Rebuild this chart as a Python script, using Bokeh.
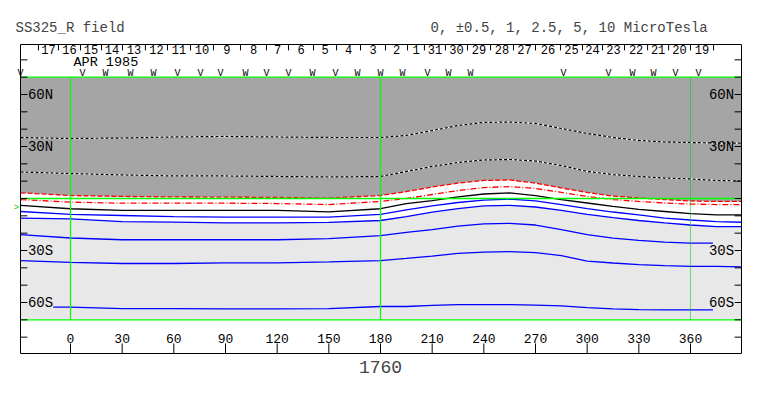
from bokeh.plotting import figure
from bokeh.models import Range1d, Label
from bokeh.core.properties import value
from bokeh.embed import file_html
from bokeh.resources import INLINE

# ---------------- data ----------------
lon = [-29, 0, 30, 60, 90, 120, 150, 180, 195, 210, 225, 240, 255, 270, 285,
       300, 315, 330, 345, 360, 375, 389.6]

# contour latitudes (deg)
lat_wd_upper = [35.2, 34.6, 34.9, 35.5, 35.8, 35.5, 35.2, 35.2, 36.4, 39.2, 42.1,
                43.9, 44.1, 43.3, 40.4, 37.5, 35.2, 33.5, 32.6, 32.3, 32.0, 32.0]
lat_wd_lower = [15.3, 14.4, 13.6, 13.0, 13.0, 12.7, 12.4, 12.7, 15.6, 18.5, 20.8,
                22.2, 22.5, 21.6, 19.0, 15.6, 13.8, 12.7, 11.8, 11.3, 10.4, 10.1]
lat_red_upper = [3.3, 1.7, 1.2, 0.9, 0.8, 0.6, 0.2, 1.7, 4.0, 6.6, 8.9,
                 10.4, 10.7, 8.9, 6.1, 3.5, 1.4, 0.3, -0.6, -1.4, -1.7, -1.7]
lat_red_lower = [-0.6, -2.1, -2.7, -2.7, -2.7, -2.9, -3.5, -1.7, 0.0, 2.3, 4.6,
                 6.3, 6.9, 5.8, 3.5, 1.2, -0.6, -1.7, -2.6, -3.2, -3.5, -3.5]
lat_black = [-4.0, -5.9, -6.9, -6.9, -6.9, -6.9, -7.7, -5.9, -2.9, -1.2, 0.9,
             2.6, 3.2, 1.7, -0.6, -2.6, -4.6, -6.3, -7.5, -8.7, -9.4, -9.4]
lat_blue1 = [-7.5, -9.2, -9.8, -10.4, -10.8, -10.8, -10.8, -9.2, -6.6, -4.3, -2.3,
             -0.9, -0.4, -1.4, -3.5, -5.8, -7.8, -9.5, -11.3, -12.4, -13.3, -13.7]
lat_blue2 = [-11.3, -11.8, -13.3, -13.6, -14.1, -14.1, -13.8, -12.7, -10.4, -7.8, -5.8,
             -4.3, -4.0, -4.9, -6.9, -9.2, -11.0, -12.7, -14.1, -15.3, -16.2, -16.2]
lon_blue3 = [-29, 0, 30, 60, 90, 120, 150, 180, 195, 210, 225, 240, 255, 270, 285,
             300, 315, 330, 345, 360, 373]
lat_blue3 = [-20.8, -22.8, -23.8, -23.8, -23.8, -23.8, -23.1, -21.4, -19.6, -17.9, -15.9,
             -14.6, -14.3, -15.3, -17.9, -20.8, -22.9, -24.2, -25.2, -25.8, -25.8]
lat_blue4 = [-35.8, -36.9, -37.5, -37.5, -37.1, -37.1, -36.6, -35.8, -34.6, -33.2, -31.7,
             -30.9, -30.6, -31.2, -32.9, -36.1, -37.2, -38.1, -38.7, -39.2, -39.2, -39.5]
lon_blue5 = [-10, 0, 30, 60, 90, 120, 150, 180, 195, 210, 225, 240, 255, 270, 285,
             300, 315, 330, 345, 360, 373]
lat_blue5 = [-62.7, -62.7, -63.5, -63.5, -63.7, -63.7, -63.5, -62.3, -62.3, -61.7, -61.2,
             -61.2, -61.2, -61.5, -62.0, -62.9, -63.7, -64.1, -64.2, -64.2, -64.2]

# axis ticks / labels
lon_ticks = [0, 30, 60, 90, 120, 150, 180, 210, 240, 270, 300, 330, 360]
lon_tick_labels = ["0", "30", "60", "90", "120", "150", "180", "210", "240",
                   "270", "300", "330", "360"]
lat_ticks = [-80, -70, -60, -50, -40, -30, -20, -10, 0, 10, 20, 30, 40, 50, 60, 70, 80]
lat_label_pos = [60, 30, -30, -60]
lat_label_text = ["60N", "30N", "30S", "60S"]

# day strip (time axis on top)
day_sep_lon = [-18.6, -7.0, 5.8, 18.0, 30.2, 43.5, 56.3, 69.7, 83.0, 98.7, 113.8,
               126.6, 141.1, 154.5, 168.4, 182.9, 195.7, 205.5, 217.7, 230.5, 243.9,
               257.2, 270.0, 284.5, 297.3, 308.9, 321.7, 335.1, 347.3, 360.0, 373.4]
day_labels = ["17", "16", "15", "14", "13", "12", "11", "10", "9", "8", "7", "6", "5",
              "4", "3", "2", "1", "31", "30", "29", "28", "27", "26", "25", "24", "23",
              "22", "21", "20", "19"]

# pass markers
mark_lon = [-29.0, 7.0, 20.3, 34.8, 48.2, 62.1, 75.5, 87.1, 101.6, 113.8, 126.6, 140.5,
            153.9, 166.6, 180.0, 192.8, 207.3, 219.5, 232.3, 286.3, 312.4, 326.3,
            338.5, 351.3, 364.6]
mark_chr = ["V", "V", "W", "W", "W", "V", "V", "V", "W", "V", "V", "W",
            "V", "W", "W", "W", "V", "W", "W", "V", "V", "W", "W", "V", "V"]

MAP_N, MAP_S = 70, -70
FONT = "Liberation Mono"

# ---------------- geometry ----------------
W, H = 760, 390
SX = 310 / 180.0      # px per degree longitude
SY = 52 / 30.0        # px per degree latitude
PX0, PY0 = 70, 198    # pixel of lon 0 / lat 0
X0, X1 = (20 - PX0) / SX, (741 - PX0) / SX      # chart box
Y0, Y1 = (PY0 - 353) / SY, (PY0 - 44) / SY

p = figure(width=W, height=H,
           x_range=Range1d(-PX0 / SX, (W - PX0) / SX),
           y_range=Range1d((PY0 - H) / SY, PY0 / SY),
           output_backend="svg", toolbar_location=None, x_axis_type=None, y_axis_type=None,
           min_border=0, title=None)
p.outline_line_color = None
p.background_fill_color = "white"
p.border_fill_color = "white"

n = len(lon)
p.varea(x=lon, y1=lat_red_upper, y2=[MAP_N] * n, fill_color="#a5a5a5")
p.varea(x=lon, y1=[MAP_S] * n, y2=lat_blue2, fill_color="#e8e8e8")

# white/black dashed contours
for lats in (lat_wd_upper, lat_wd_lower):
    p.line(lon, lats, line_color="white", line_width=1.2)
    p.line(lon, lats, line_color="black", line_width=1.2, line_dash="3 2")

p.line(lon, lat_red_upper, line_color="#ff0000", line_width=1.3, line_dash="5 2")
p.line(lon, lat_red_lower, line_color="#ff0000", line_width=1.3, line_dash="6 2 1 2")
p.line(lon, lat_black, line_color="black", line_width=1.3)
p.line(lon, lat_blue1, line_color="#0000ff", line_width=1.3)
p.line(lon, lat_blue2, line_color="#0000ff", line_width=1.3)
p.line(lon_blue3, lat_blue3, line_color="#0000ff", line_width=1.3)
p.line(lon, lat_blue4, line_color="#0000ff", line_width=1.3)
p.line(lon_blue5, lat_blue5, line_color="#0000ff", line_width=1.3)

# green map lines
p.segment(x0=[X0] * 3, x1=[X1] * 3, y0=[MAP_N, 0, MAP_S], y1=[MAP_N, 0, MAP_S],
          line_color="#00ff00", line_width=1.3)
p.segment(x0=[0, 180], x1=[0, 180], y0=[MAP_S] * 2, y1=[MAP_N] * 2,
          line_color="#00ff00", line_width=1.2)
p.segment(x0=[360], x1=[360], y0=[MAP_S], y1=[MAP_N],
          line_color="#00cc00", line_width=1, line_alpha=0.55)

# chart box
p.quad(left=[X0], right=[X1], bottom=[Y0], top=[Y1], fill_color=None,
       line_color="black", line_width=1)

# latitude ticks both sides
m = len(lat_ticks)
p.segment(x0=[X0] * m, x1=[X0 + 4] * m, y0=lat_ticks, y1=lat_ticks, line_color="black")
p.segment(x0=[X1 - 4] * m, x1=[X1] * m, y0=lat_ticks, y1=lat_ticks, line_color="black")
p.text(x=[X0 + 4.3] * 4, y=lat_label_pos, text=lat_label_text, text_font=value(FONT),
       text_font_size="14px", text_align="left", text_baseline="middle", text_color="black")
p.text(x=[X1 - 4.3] * 4, y=lat_label_pos, text=lat_label_text, text_font=value(FONT),
       text_font_size="14px", text_align="right", text_baseline="middle", text_color="black")

# longitude ticks at the bottom (inside)
k = len(lon_ticks)
p.segment(x0=lon_ticks, x1=lon_ticks, y0=[Y0] * k, y1=[Y0 + 5.8] * k, line_color="black")
p.text(x=lon_ticks, y=[-80.5] * k, text=lon_tick_labels, text_font=value(FONT),
       text_font_size="13px", text_align="center", text_baseline="middle", text_color="black")

# day strip
s = len(day_sep_lon)
p.segment(x0=day_sep_lon, x1=day_sep_lon, y0=[Y1] * s, y1=[Y1 - 3.4] * s, line_color="black")
day_mid = [(day_sep_lon[i] + day_sep_lon[i + 1]) / 2 for i in range(len(day_labels))]
p.text(x=day_mid, y=[85.9] * len(day_labels), text=day_labels, text_font=value(FONT),
       text_font_size="12px", text_align="center", text_baseline="middle", text_color="black")
p.text(x=[1.7], y=[78.5], text=["APR 1985"], text_font=value(FONT),
       text_font_size="13.5px", text_align="left", text_baseline="middle", text_color="black")
p.text(x=mark_lon, y=[72.4] * len(mark_lon), text=mark_chr, text_font=value(FONT),
       text_font_size="10px", text_align="center", text_baseline="middle", text_color="black")

# titles
p.add_layout(Label(x=(15 - PX0) / SX, y=(PY0 - 27) / SY, text="SS325_R field", text_font=FONT,
                   text_font_size="14px", text_align="left", text_baseline="middle"))
p.add_layout(Label(x=(430 - PX0) / SX, y=(PY0 - 27) / SY,
                   text="0, \u00b10.5, 1, 2.5, 5, 10 MicroTesla",
                   text_font=FONT, text_font_size="14px", text_align="left",
                   text_baseline="middle"))
p.add_layout(Label(x=180, y=(PY0 - 366) / SY, text="1760", text_font=FONT,
                   text_font_size="18px", text_align="center", text_baseline="middle"))
p.add_layout(Label(x=(16 - PX0) / SX, y=(PY0 - 207.5) / SY, text=">", text_font=FONT,
                   text_font_size="9px", text_color="#00cc00", text_align="center",
                   text_baseline="middle"))

open("out.html", "w").write(file_html(p, INLINE))
